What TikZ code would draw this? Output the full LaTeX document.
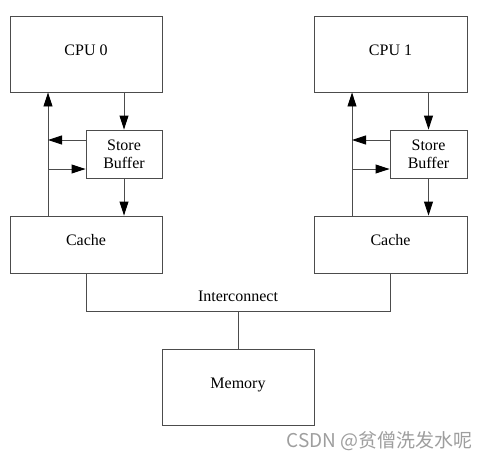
\documentclass[tikz,border=0pt]{standalone}
\usepackage{fontspec}
\setmainfont{Liberation Serif}
\newfontfamily\cjkfont{Noto Sans CJK SC}
\usetikzlibrary{arrows.meta}
\begin{document}
\begin{tikzpicture}[x=1pt,y=-1pt,
  box/.style={draw=black!70, line width=0.9pt, inner sep=0pt, align=center, font=\fontsize{16}{18}\selectfont},
  onebox/.style={box, text height=8pt, text depth=5.4pt},
  wire/.style={draw=black!70, line width=0.9pt},
  arr/.style={wire, -{Triangle[length=14pt,width=9pt,black]}}]
\useasboundingbox (0,0) rectangle (489,460);
% left side
\node[onebox, minimum width=152pt, minimum height=76pt] (cpu0) at (86,54) {CPU 0};
\node[box, minimum width=76pt, minimum height=48pt] (sb0) at (124,154) {Store\\Buffer};
\node[onebox, minimum width=152pt, minimum height=57pt] (cache0) at (86,244.5) {Cache};
% right side
\node[onebox, minimum width=153pt, minimum height=76pt] (cpu1) at (390.5,54) {CPU 1};
\node[box, minimum width=77pt, minimum height=48pt] (sb1) at (428.5,154) {Store\\Buffer};
\node[onebox, minimum width=153pt, minimum height=57pt] (cache1) at (390.5,244.5) {Cache};
% memory
\node[onebox, minimum width=152pt, minimum height=76pt] (mem) at (238,387) {Memory};
% coordinates
\coordinate (v0) at (48,140);
\coordinate (w0) at (48,169);
\coordinate (v1) at (352,140);
\coordinate (w1) at (352,169);
\coordinate (bus) at (238,311);
% CPU0 arrows
\draw[arr] (cpu0.south -| sb0) -- (sb0.north);
\draw[arr] (sb0.south) -- (sb0.south |- cache0.north);
\draw[arr] (cache0.north -| v0) -- (cpu0.south -| v0);
\draw[arr] (sb0.west |- v0) -- (v0);
\draw[arr] (w0) -- (sb0.west |- w0);
% CPU1 arrows
\draw[arr] (cpu1.south -| sb1) -- (sb1.north);
\draw[arr] (sb1.south) -- (sb1.south |- cache1.north);
\draw[arr] (cache1.north -| v1) -- (cpu1.south -| v1);
\draw[arr] (sb1.west |- v1) -- (v1);
\draw[arr] (w1) -- (sb1.west |- w1);
% interconnect
\draw[wire] (cache0.south) -- (cache0.south |- bus) -- (cache1.south |- bus) -- (cache1.south);
\draw[wire] (bus) -- (mem.north);
\node[font=\fontsize{16}{18}\selectfont, anchor=base] (ic) at (238,301) {Interconnect};
% watermark
\node[font=\cjkfont\fontsize{19}{22}\selectfont, text=black!38, anchor=base east, inner sep=0pt] (wm) at (473,447) {CSDN @贫僧洗发水呢};
\end{tikzpicture}
\end{document}
